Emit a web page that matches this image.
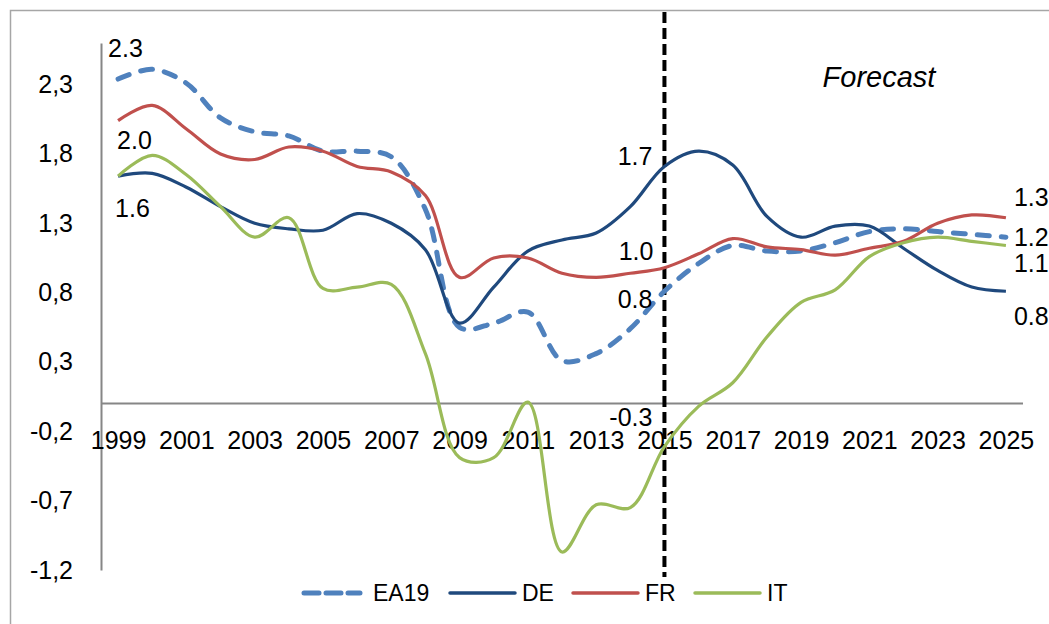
<!DOCTYPE html>
<html>
<head>
<meta charset="utf-8">
<script src="https://cdn.jsdelivr.net/npm/d3@7"></script>
<style>
  html, body { margin: 0; padding: 0; background: #fff; }
  svg { display: block; font-family: 'Liberation Sans', Arial, sans-serif; }
</style>
</head>
<body>
<div id="chart"></div>
<script>
// categories
const years = d3.range(1999, 2026);
const yearTicks = years.filter((y) => (y - 1999) % 2 === 0);

// series values (annual growth, %)
const ea19 = [2.34, 2.41, 2.31, 2.06, 1.96, 1.93, 1.82, 1.82, 1.78, 1.40, 0.55, 0.58, 0.66, 0.31, 0.36, 0.54, 0.81, 1.01, 1.14, 1.10, 1.10, 1.16, 1.24, 1.26, 1.24, 1.22, 1.20];
const de = [1.64, 1.66, 1.56, 1.42, 1.30, 1.26, 1.25, 1.37, 1.30, 1.11, 0.58, 0.84, 1.10, 1.18, 1.23, 1.42, 1.71, 1.82, 1.72, 1.35, 1.20, 1.28, 1.28, 1.12, 0.96, 0.84, 0.81];
const fr = [2.04, 2.15, 1.98, 1.80, 1.76, 1.85, 1.82, 1.71, 1.67, 1.50, 0.91, 1.05, 1.05, 0.94, 0.91, 0.94, 0.98, 1.08, 1.19, 1.13, 1.11, 1.07, 1.12, 1.17, 1.30, 1.36, 1.34];
const it = [1.64, 1.79, 1.65, 1.42, 1.20, 1.34, 0.83, 0.84, 0.86, 0.36, -0.39, -0.39, 0.01, -1.07, -0.73, -0.75, -0.31, -0.02, 0.15, 0.48, 0.73, 0.82, 1.06, 1.16, 1.20, 1.17, 1.14];

// tick labels on the value axis
const yTickValues = [-1.2, -0.7, -0.2, 0.3, 0.8, 1.3, 1.8, 2.3];
const yTickLabels = ['-1,2', '-0,7', '-0,2', '0,3', '0,8', '1,3', '1,8', '2,3'];

const forecastYear = 2015;

// data labels: which series / year, and shown text
const labelSeries = ['EA19', 'FR', 'DE', 'DE', 'FR', 'EA19', 'IT', 'FR', 'EA19', 'IT', 'DE'];
const labelYears = [1999, 1999, 1999, 2015, 2015, 2015, 2015, 2025, 2025, 2025, 2025];
const labelTexts = ['2.3', '2.0', '1.6', '1.7', '1.0', '0.8', '-0.3', '1.3', '1.2', '1.1', '0.8'];
// hand placement of those labels relative to their point (px)
const labelPlacement = [
  { dx: -10, dy: -31, anchor: 'start' },
  { dx: -1, dy: 19, anchor: 'start' },
  { dx: -3, dy: 32, anchor: 'start' },
  { dx: -12, dy: -10, anchor: 'end' },
  { dx: -11, dy: -17, anchor: 'end' },
  { dx: -12, dy: 8, anchor: 'end' },
  { dx: -12, dy: -30, anchor: 'end' },
  { dx: 8, dy: -21, anchor: 'start' },
  { dx: 8, dy: 0, anchor: 'start' },
  { dx: 8, dy: 18, anchor: 'start' },
  { dx: 8, dy: 25, anchor: 'start' }
];

const series = [
  { key: 'EA19', values: ea19, color: '#4F81BD', width: 5, dash: '12,12' },
  { key: 'DE', values: de, color: '#1F497D', width: 3.2, dash: null },
  { key: 'FR', values: fr, color: '#C0504D', width: 3.2, dash: null },
  { key: 'IT', values: it, color: '#9BBB59', width: 3.2, dash: null }
];

const width = 1049;
const height = 624;
const plot = { left: 101, right: 1023, top: 43, bottom: 570 };

const svg = d3
  .select('#chart')
  .append('svg')
  .attr('width', width)
  .attr('height', height);

// outer chart-area border (runs off the right/bottom edge)
svg
  .append('rect')
  .attr('x', 10.5)
  .attr('y', 10.5)
  .attr('width', width + 20)
  .attr('height', height + 20)
  .attr('fill', 'none')
  .attr('stroke', '#a6a6a6')
  .attr('stroke-width', 1.5);

const xScale = d3
  .scalePoint()
  .domain(years)
  .range([plot.left, plot.right])
  .padding(0.5);

const yScale = d3
  .scaleLinear()
  .domain([-1.2, 2.6])
  .range([plot.bottom, plot.top]);

// value axis
const yAxis = d3
  .axisLeft(yScale)
  .tickValues(yTickValues)
  .tickFormat((d, i) => yTickLabels[i])
  .tickSize(0)
  .tickPadding(28);

const yAxisG = svg
  .append('g')
  .attr('transform', `translate(${plot.left}, 0)`)
  .call(yAxis);
yAxisG.select('.domain').attr('stroke', '#868686').attr('stroke-width', 2);
yAxisG
  .selectAll('text')
  .attr('font-size', '25px')
  .attr('fill', '#000')
  .attr('font-family', "'Liberation Sans', Arial, sans-serif");

// category axis at zero
const xAxis = d3
  .axisBottom(xScale)
  .tickValues(yearTicks)
  .tickSize(0)
  .tickPadding(28);

const xAxisG = svg
  .append('g')
  .attr('transform', `translate(0, ${yScale(0)})`)
  .call(xAxis);
xAxisG
  .select('.domain')
  .attr('d', `M${plot.left},0H${plot.right}`)
  .attr('stroke', '#868686')
  .attr('stroke-width', 2);
xAxisG
  .selectAll('text')
  .attr('font-size', '25px')
  .attr('fill', '#000')
  .attr('font-family', "'Liberation Sans', Arial, sans-serif");

// forecast divider
svg
  .append('line')
  .attr('x1', xScale(forecastYear))
  .attr('x2', xScale(forecastYear))
  .attr('y1', 12)
  .attr('y2', 577)
  .attr('stroke', '#000')
  .attr('stroke-width', 4)
  .attr('stroke-dasharray', '11,5');

svg
  .append('text')
  .attr('x', 879)
  .attr('y', 77)
  .attr('text-anchor', 'middle')
  .attr('dominant-baseline', 'central')
  .attr('font-size', '29px')
  .attr('font-style', 'italic')
  .attr('fill', '#000')
  .text('Forecast');

// lines
const line = d3
  .line()
  .x((d, i) => xScale(years[i]))
  .y((d) => yScale(d))
  .curve(d3.curveCatmullRom.alpha(0.5));

const lineG = svg.append('g').attr('class', 'lines');
lineG
  .selectAll('path')
  .data(series, (d) => d.key)
  .join('path')
  .attr('d', (d) => line(d.values))
  .attr('fill', 'none')
  .attr('stroke', (d) => d.color)
  .attr('stroke-width', (d) => d.width)
  .attr('stroke-dasharray', (d) => d.dash)
  .attr('stroke-linecap', (d) => (d.dash ? 'round' : 'butt'))
  .attr('stroke-linejoin', 'round');

// data labels
const byKey = Object.fromEntries(series.map((s) => [s.key, s]));
svg
  .append('g')
  .attr('class', 'labels')
  .selectAll('text')
  .data(labelTexts)
  .join('text')
  .attr('x', (d, i) => xScale(labelYears[i]) + labelPlacement[i].dx)
  .attr('y', (d, i) => {
    const s = byKey[labelSeries[i]];
    return yScale(s.values[years.indexOf(labelYears[i])]) + labelPlacement[i].dy;
  })
  .attr('text-anchor', (d, i) => labelPlacement[i].anchor)
  .attr('dominant-baseline', 'central')
  .attr('font-size', '25px')
  .attr('fill', '#000')
  .text((d) => d);

// legend
const legendX = [302, 450, 573, 695];
const legendY = 593;
const legend = svg
  .append('g')
  .attr('class', 'legend')
  .selectAll('g')
  .data(series)
  .join('g')
  .attr('transform', (d, i) => `translate(${legendX[i]}, ${legendY})`);

legend
  .append('line')
  .attr('x1', (d) => (d.dash ? 2 : 0))
  .attr('x2', (d) => (d.dash ? 58 : 65))
  .attr('y1', 0)
  .attr('y2', 0)
  .attr('stroke', (d) => d.color)
  .attr('stroke-width', (d) => (d.dash ? 5 : 3.5))
  .attr('stroke-dasharray', (d) => (d.dash ? '15,7' : null))
  .attr('stroke-linecap', 'round');

legend
  .append('text')
  .attr('x', (d) => (d.dash ? 71 : 72))
  .attr('y', 0)
  .attr('dominant-baseline', 'central')
  .attr('font-size', '23px')
  .attr('fill', '#000')
  .text((d) => d.key);
</script>
</body>
</html>
